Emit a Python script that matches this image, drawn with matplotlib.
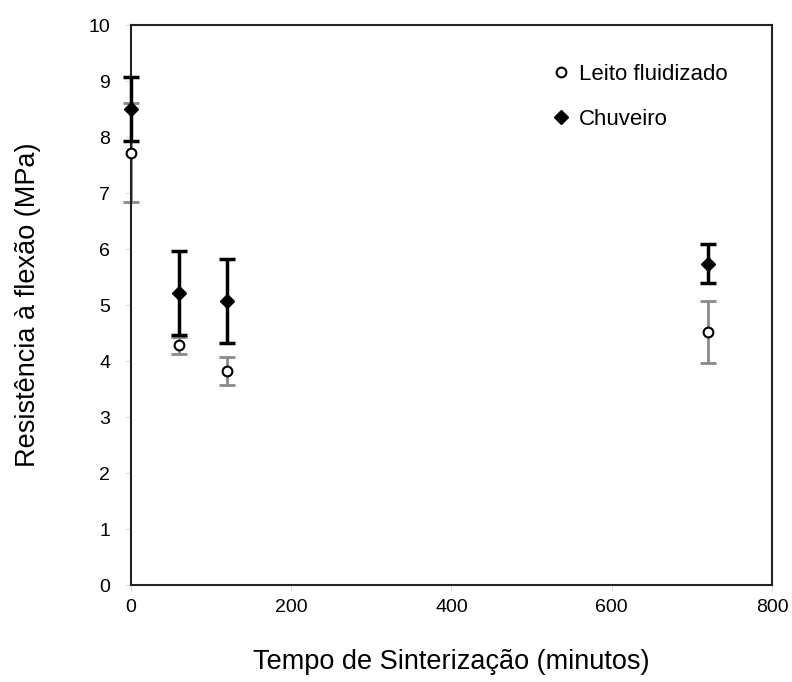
import matplotlib.pyplot as plt

plt.rcParams['font.family'] = ['Liberation Sans', 'DejaVu Sans']

# tempo de sinterizacao (minutos)
tempo = [0, 60, 120, 720]

# Leito fluidizado
leito = [7.72, 4.28, 3.82, 4.52]
leito_err = [0.88, 0.15, 0.25, 0.55]

# Chuveiro
chuveiro = [8.5, 5.22, 5.08, 5.74]
chuveiro_err = [0.57, 0.75, 0.75, 0.35]

fig = plt.figure(figsize=(7.92, 6.82), dpi=100)
ax = fig.add_axes([0.1654, 0.1422, 0.8093, 0.8211])

eb1 = ax.errorbar(tempo, leito, yerr=leito_err, fmt='none', ecolor='#8a8a8a',
                  elinewidth=2, capsize=5.5, capthick=2, zorder=2)
eb2 = ax.errorbar(tempo, chuveiro, yerr=chuveiro_err, fmt='none', ecolor='black',
                  elinewidth=2.5, capsize=5.5, capthick=2.5, zorder=3)
for eb in (eb1, eb2):
    for art in eb.lines[1] + eb.lines[2]:
        art.set_clip_on(False)
ax.plot(tempo, leito, 'o', ms=7, mfc='white', mec='black', mew=1.5,
        ls='none', zorder=4, clip_on=False, label='Leito fluidizado')
ax.plot(tempo, chuveiro, 'D', ms=7, mfc='black', mec='black',
        ls='none', zorder=5, clip_on=False, label='Chuveiro')

ax.set_xlim(0, 800)
ax.set_ylim(0, 10)
ax.set_xticks([0, 200, 400, 600, 800])
ax.set_yticks(range(0, 11))
ax.tick_params(direction='out', length=4, color='#dddddd', labelsize=14)
ax.tick_params(axis='x', pad=6)
ax.tick_params(axis='y', pad=11)
for s in ax.spines.values():
    s.set_linewidth(1.5)
    s.set_color('#222222')

ax.set_xlabel('Tempo de Sinterização (minutos)', fontsize=19.5, labelpad=24)
ax.set_ylabel('Resistência à flexão (MPa)', fontsize=19.5, labelpad=34)

ax.legend(loc='upper left', frameon=False, fontsize=16,
          bbox_to_anchor=(0.626, 0.9665), handletextpad=0.4,
          labelspacing=1.07, handlelength=0.8)

fig.savefig('out.png', dpi=100)
